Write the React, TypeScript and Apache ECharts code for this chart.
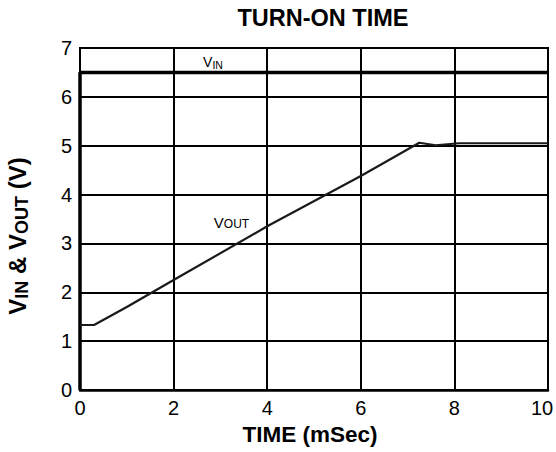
import React, { useEffect, useRef } from 'react';
import * as echarts from 'echarts';

// ---- data ----
const titleText = 'TURN-ON TIME';
const xAxisTitle = 'TIME (mSec)';
const xMin = 0, xMax = 10, xStep = 2;
const yMin = 0, yMax = 7, yStep = 1;

const vinTime = [0, 0, 10];
const vinValues = [0, 6.5, 6.5];

const voutTime = [0, 0.3, 1, 2, 4, 6, 7.25, 7.6, 8.1, 10];
const voutValues = [1.33, 1.33, 1.7, 2.25, 3.35, 4.38, 5.06, 5.01, 5.05, 5.05];

const labelMain = ['V', 'V'];
const labelSub = ['IN', 'OUT'];
const labelAtX = [2.63, 2.86];
const labelAtY = [6.71, 3.43];

const FONT = 'Liberation Sans, Arial, Helvetica, sans-serif';

export default function App() {
  const ref = useRef<HTMLDivElement>(null);
  useEffect(() => {
    if (!ref.current) return;
    const chart = echarts.init(ref.current, undefined, { renderer: 'svg' });
    const vin = vinTime.map((t, i) => [t, vinValues[i]]);
    const vout = voutTime.map((t, i) => [t, voutValues[i]]);
    chart.setOption({
      animation: false,
      backgroundColor: '#fff',
      textStyle: { fontFamily: FONT },
      grid: {
        left: 80, right: 8, top: 48, bottom: 62,
        containLabel: false, outerBoundsMode: 'none',
        show: true, borderColor: '#000', borderWidth: 2, backgroundColor: 'transparent',
      },
      xAxis: {
        type: 'value', min: xMin, max: xMax, interval: xStep,
        axisLine: { show: true, lineStyle: { color: '#000', width: 2.5 } },
        axisTick: { show: false },
        splitLine: { show: true, lineStyle: { color: '#000', width: 2 } },
        axisLabel: {
          color: '#000', fontSize: 20, margin: 8, fontFamily: FONT,
          formatter: (v: number) => (v === xMax ? `{r|${v}}` : `${v}`),
          rich: { r: { fontSize: 20, fontFamily: FONT, color: '#000', padding: [0, 12, 0, 0] } },
        },
        name: xAxisTitle, nameLocation: 'middle', nameGap: 33,
        nameTextStyle: { color: '#000', fontSize: 22.5, fontWeight: 'bold', fontFamily: FONT, padding: [0, 8, 0, 0] },
      },
      yAxis: {
        type: 'value', min: yMin, max: yMax, interval: yStep,
        axisLine: { show: true, lineStyle: { color: '#000', width: 2 } },
        axisTick: { show: false },
        splitLine: { show: true, lineStyle: { color: '#000', width: 2 } },
        axisLabel: { color: '#000', fontSize: 20, margin: 8, fontFamily: FONT },
        name: '{v|V}{s|IN}{v| & V}{s|OUT}{v| (V)}',
        nameLocation: 'middle', nameGap: 49,
        nameTextStyle: {
          color: '#000',
          padding: [0, 34, 0, 0],
          rich: {
            v: { fontSize: 24, fontWeight: 'bold', fontFamily: FONT, color: '#000', lineHeight: 27 },
            s: { fontSize: 18, fontWeight: 'bold', fontFamily: FONT, color: '#000', lineHeight: 18, verticalAlign: 'bottom', padding: [6, 0, 0, 0] },
          },
        },
      },
      series: [
        {
          type: 'line', data: vin, symbol: 'none', clip: false,
          lineStyle: { color: '#000', width: 3.5 }, z: 3,
        },
        {
          type: 'line', data: vout, symbol: 'none', clip: false,
          lineStyle: { color: '#1a1a1a', width: 2.2 }, z: 4,
        },
      ],
    });
    const labels = labelMain.map((m, i) => {
      const p = chart.convertToPixel({ gridIndex: 0 }, [labelAtX[i], labelAtY[i]]) as number[];
      return {
        type: 'text', x: p[0], y: p[1], z: 10,
        style: {
          text: `{v|${m}}{s|${labelSub[i]}}`,
          align: 'left', verticalAlign: 'middle',
          rich: {
            v: { fontSize: i === 0 ? 14 : 15, fontFamily: FONT, fill: '#000', lineHeight: 16 },
            s: { fontSize: i === 0 ? 10.5 : 12, fontFamily: FONT, fill: '#000', lineHeight: 10, verticalAlign: 'bottom', padding: [5, 0, 0, 0] },
          },
        },
      };
    });
    chart.setOption({
      graphic: [
        {
          type: 'text', x: 323, y: 18, z: 10,
          style: { text: titleText, align: 'center', verticalAlign: 'middle', fontSize: 23.5, fontWeight: 'bold', fontFamily: FONT, fill: '#000' },
        },
        ...labels,
      ],
    });
    return () => chart.dispose();
  }, []);
  return <div ref={ref} style={{ position: 'fixed', left: 0, top: 0, width: 556, height: 452 }} />;
}
